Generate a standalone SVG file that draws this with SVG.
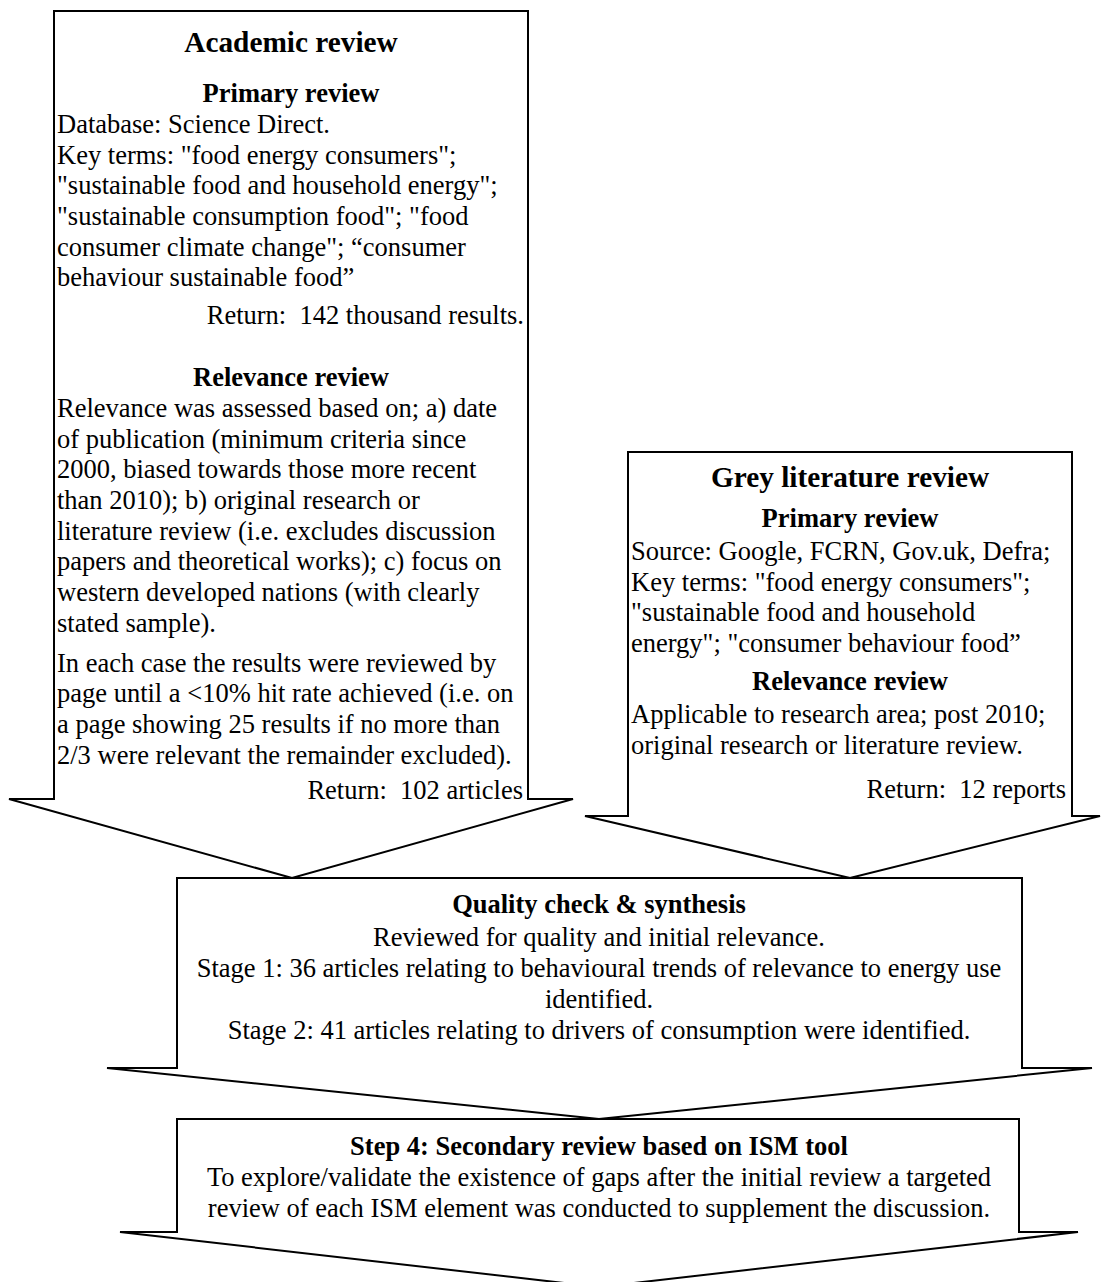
<svg xmlns="http://www.w3.org/2000/svg" width="1101" height="1282" viewBox="0 0 1101 1282">
<style>
text{font-family:"Liberation Serif","Times New Roman",serif;fill:#000;white-space:pre}
.b{font-size:26.5px}
.h{font-size:26.5px;font-weight:bold;text-anchor:middle}
.t{font-size:29.3px;font-weight:bold;text-anchor:middle}
.c{text-anchor:middle}
.r{text-anchor:end}
.shape{fill:#fff;stroke:#000;stroke-width:2;stroke-linejoin:miter}
</style>
<rect width="1101" height="1282" fill="#fff"/>
<g id="academic-review">
<path class="shape" d="M54,11 H528 V799 H573 L292,878 L9,799 H54 Z"/>
<text class="t" x="291" y="52">Academic review</text>
<text class="h" x="291" y="102">Primary review</text>
<text class="b" x="57" y="133">Database: Science Direct.</text>
<text class="b" x="57" y="164">Key terms: "food energy consumers";</text>
<text class="b" x="57" y="194">"sustainable food and household energy";</text>
<text class="b" x="57" y="225">"sustainable consumption food"; "food</text>
<text class="b" x="57" y="256">consumer climate change"; “consumer</text>
<text class="b" x="57" y="286">behaviour sustainable food”</text>
<text class="b r" x="524" y="324">Return:  142 thousand results.</text>
<text class="h" x="291" y="386">Relevance review</text>
<text class="b" x="57" y="417">Relevance was assessed based on; a) date</text>
<text class="b" x="57" y="448">of publication (minimum criteria since</text>
<text class="b" x="57" y="478">2000, biased towards those more recent</text>
<text class="b" x="57" y="509">than 2010); b) original research or</text>
<text class="b" x="57" y="540">literature review (i.e. excludes discussion</text>
<text class="b" x="57" y="570">papers and theoretical works); c) focus on</text>
<text class="b" x="57" y="601">western developed nations (with clearly</text>
<text class="b" x="57" y="632">stated sample).</text>
<text class="b" x="57" y="672">In each case the results were reviewed by</text>
<text class="b" x="57" y="702">page until a &lt;10% hit rate achieved (i.e. on</text>
<text class="b" x="57" y="733">a page showing 25 results if no more than</text>
<text class="b" x="57" y="764">2/3 were relevant the remainder excluded).</text>
<text class="b r" x="523" y="799">Return:  102 articles</text>
</g>
<g id="grey-literature-review">
<path class="shape" d="M628,452 H1072 V816 H1100 L850,878 L585,816 H628 Z"/>
<text class="t" x="850" y="487">Grey literature review</text>
<text class="h" x="850" y="527">Primary review</text>
<text class="b" x="631" y="560">Source: Google, FCRN, Gov.uk, Defra;</text>
<text class="b" x="631" y="591">Key terms: "food energy consumers";</text>
<text class="b" x="631" y="621">"sustainable food and household</text>
<text class="b" x="631" y="652">energy"; "consumer behaviour food”</text>
<text class="h" x="850" y="690">Relevance review</text>
<text class="b" x="631" y="723">Applicable to research area; post 2010;</text>
<text class="b" x="631" y="754">original research or literature review.</text>
<text class="b r" x="1066" y="798">Return:  12 reports</text>
</g>
<g id="quality-check">
<path class="shape" d="M177,878 H1022 V1068 H1092 L599,1119 L107,1068 H177 Z"/>
<text class="h" x="599" y="913">Quality check &amp; synthesis</text>
<text class="b c" x="599" y="946">Reviewed for quality and initial relevance.</text>
<text class="b c" x="599" y="977">Stage 1: 36 articles relating to behavioural trends of relevance to energy use</text>
<text class="b c" x="599" y="1008">identified.</text>
<text class="b c" x="599" y="1039">Stage 2: 41 articles relating to drivers of consumption were identified.</text>
</g>
<g id="secondary-review">
<path class="shape" d="M177,1119 H1019 V1232 H1078 L599,1287 L120,1232 H177 Z"/>
<text class="h" x="599" y="1155">Step 4: Secondary review based on ISM tool</text>
<text class="b c" x="599" y="1186">To explore/validate the existence of gaps after the initial review a targeted</text>
<text class="b c" x="599" y="1217">review of each ISM element was conducted to supplement the discussion.</text>
</g>
<g id="connectors"></g>
</svg>
